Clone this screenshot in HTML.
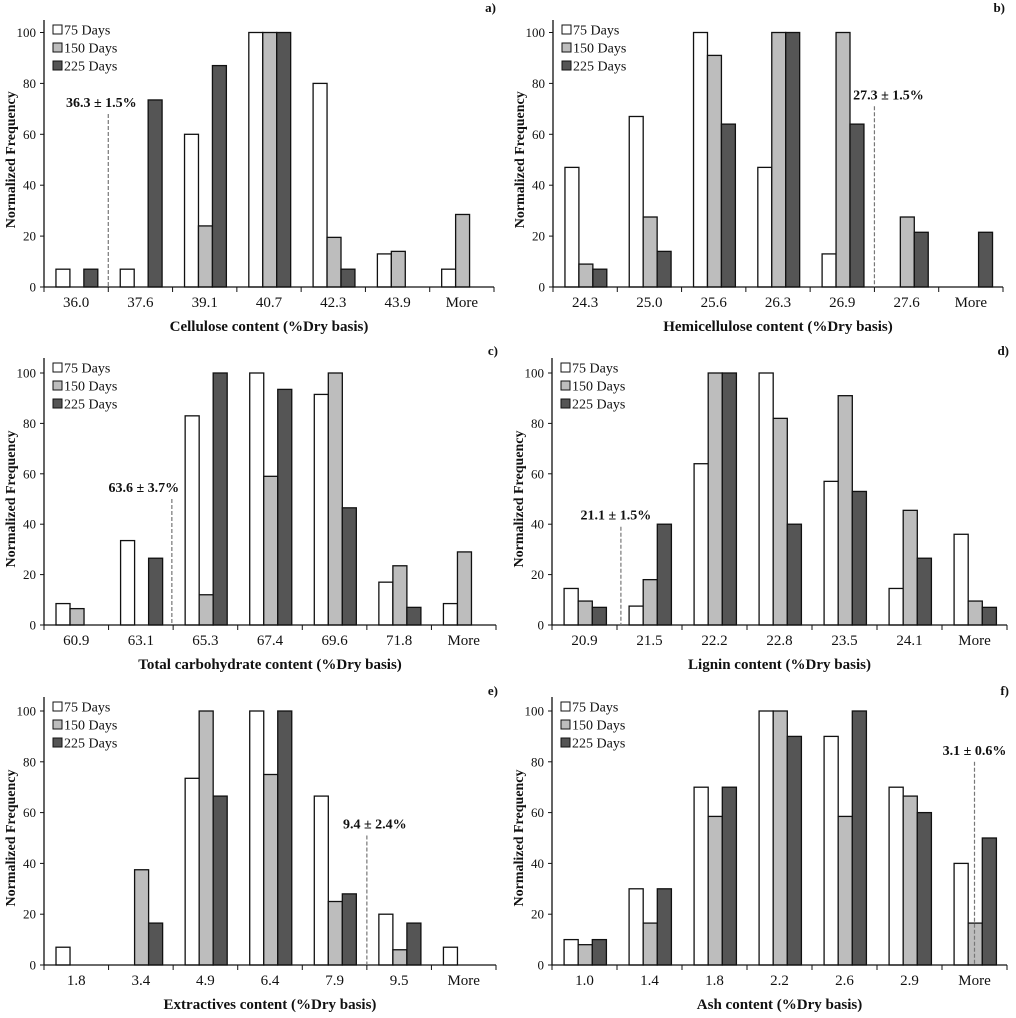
<!DOCTYPE html>
<html><head><meta charset="utf-8"><style>
body{margin:0;background:#fff}
svg{display:block}
text{font-family:"Liberation Serif",serif;fill:#111}
</style></head><body>
<svg id="chart" width="1016" height="1018" viewBox="0 0 1016 1018" xmlns="http://www.w3.org/2000/svg"></svg>
<script>
const seriesNames = ["75 Days","150 Days","225 Days"];
const seriesFill = ["#ffffff","#bdbdbd","#555555"];
const yTicks = [0,20,40,60,80,100];
const catsA = ["36.0","37.6","39.1","40.7","42.3","43.9","More"];
const a75 = [7,7,60,100,80,13,7];
const a150 = [0,0,24,100,19.5,14,28.5];
const a225 = [7,73.5,87,100,7,0,0];
const catsB = ["24.3","25.0","25.6","26.3","26.9","27.6","More"];
const b75 = [47,67,100,47,13,0,0];
const b150 = [9,27.5,91,100,100,27.5,0];
const b225 = [7,14,64,100,64,21.5,21.5];
const catsC = ["60.9","63.1","65.3","67.4","69.6","71.8","More"];
const c75 = [8.5,33.5,83,100,91.5,17,8.5];
const c150 = [6.5,0,12,59,100,23.5,29];
const c225 = [0,26.5,100,93.5,46.5,7,0];
const catsD = ["20.9","21.5","22.2","22.8","23.5","24.1","More"];
const d75 = [14.5,7.5,64,100,57,14.5,36];
const d150 = [9.5,18,100,82,91,45.5,9.5];
const d225 = [7,40,100,40,53,26.5,7];
const catsE = ["1.8","3.4","4.9","6.4","7.9","9.5","More"];
const e75 = [7,0,73.5,100,66.5,20,7];
const e150 = [0,37.5,100,75,25,6,0];
const e225 = [0,16.5,66.5,100,28,16.5,0];
const catsF = ["1.0","1.4","1.8","2.2","2.6","2.9","More"];
const f75 = [10,30,70,100,90,70,40];
const f150 = [8,16.5,58.5,100,58.5,66.5,16.5];
const f225 = [10,30,70,90,100,60,50];
const titles = ["Cellulose  content  (%Dry basis)","Hemicellulose  content  (%Dry basis)","Total  carbohydrate content (%Dry basis)","Lignin  content  (%Dry basis)","Extractives  content  (%Dry basis)","Ash  content  (%Dry basis)"];
const letters = ["a)","b)","c)","d)","e)","f)"];
const meanLabels = ["36.3 \u00b1 1.5%","27.3 \u00b1 1.5%","63.6 \u00b1 3.7%","21.1 \u00b1 1.5%","9.4 \u00b1 2.4%","3.1 \u00b1 0.6%"];
const meanPos = [1.0,5.0,1.98,1.06,5.0,6.5];
const meanTop = [68,71,50,39,51,80];
const labelShift = [-7,14,-28,-5,8,0];

const panels=[
 {cats:catsA,s:[a75,a150,a225],x0:44,x1:494,y0:287,y100:32.5,top:20,lab:12},
 {cats:catsB,s:[b75,b150,b225],x0:553,x1:1003,y0:287,y100:32.5,top:20,lab:12},
 {cats:catsC,s:[c75,c150,c225],x0:44,x1:496,y0:625,y100:373,top:358,lab:355},
 {cats:catsD,s:[d75,d150,d225],x0:552,x1:1007,y0:625,y100:373,top:358,lab:355},
 {cats:catsE,s:[e75,e150,e225],x0:44,x1:496,y0:965,y100:711,top:697,lab:695},
 {cats:catsF,s:[f75,f150,f225],x0:552,x1:1007,y0:965,y100:711,top:697,lab:695}
];
const svg=document.getElementById('chart');
const NS="http://www.w3.org/2000/svg";
function mk(tag,attrs,parent){const e=document.createElementNS(NS,tag);for(const k in attrs)e.setAttribute(k,attrs[k]);(parent||svg).appendChild(e);return e;}
panels.forEach((p,pi)=>{
 const g=mk('g',{});
 
 
 const n=p.cats.length, cw=(p.x1-p.x0)/n;
 const X=c=>p.x0+c*cw;
 const Y=v=>p.y0-(v/100)*(p.y0-p.y100);
 p.s.forEach((arr,si)=>{
  arr.forEach((v,ci)=>{
   if(v<=0)return;
   const r=mk('rect',{x:X(ci)+cw*(0.186+0.217*si),y:Y(v),width:cw*0.217,height:p.y0-Y(v),fill:seriesFill[si],stroke:'#111','stroke-width':1.3},g);
   
   
  });
 });
 const ya=mk('line',{x1:p.x0,y1:p.top,x2:p.x0,y2:p.y0,stroke:'#111','stroke-width':1.3},g);
 
 
 const xa=mk('line',{x1:p.x0,y1:p.y0,x2:p.x1,y2:p.y0,stroke:'#111','stroke-width':1.3},g);
 
 
 yTicks.forEach(t=>{
  mk('line',{x1:p.x0-4,y1:Y(t),x2:p.x0,y2:Y(t),stroke:'#111'},g);
  const tx=mk('text',{x:p.x0-8,y:Y(t)+4.5,'text-anchor':'end','font-size':13},g);
  tx.textContent=t;
  
  
 });
 for(let i=0;i<=n;i++) mk('line',{x1:X(i),y1:p.y0,x2:X(i),y2:p.y0+5,stroke:'#111'},g);
 p.cats.forEach((c,ci)=>{
  const tx=mk('text',{x:X(ci+0.5),y:p.y0+20,'text-anchor':'middle','font-size':15},g);
  tx.textContent=c;
  
  
 });
 const tt=mk('text',{x:(p.x0+p.x1)/2,y:p.y0+44,'text-anchor':'middle','font-size':15,'font-weight':'bold'},g);
 tt.textContent=titles[pi];
 
 
 const yt=mk('text',{x:0,y:0,'text-anchor':'middle','font-size':14,'font-weight':'bold',transform:`translate(${p.x0-29},${(p.y0+p.y100)/2}) rotate(-90)`},g);
 yt.textContent="Normalized Frequency";
 
 
 const lt=mk('text',{x:p.x1+2,y:p.lab,'text-anchor':'end','font-size':13,'font-weight':'bold'},g);
 lt.textContent=letters[pi];
 
 
 const mx=X(meanPos[pi]);
 const ml=mk('line',{x1:mx,y1:Y(meanTop[pi]),x2:mx,y2:p.y0,stroke:'#777','stroke-width':1.2,'stroke-dasharray':'4,2'},g);
 
 
 const mt=mk('text',{x:mx+labelShift[pi],y:Y(meanTop[pi])-7,'text-anchor':'middle','font-size':14,'font-weight':'bold'},g);
 mt.textContent=meanLabels[pi];
 
 
 seriesNames.forEach((s,si)=>{
  const ly=p.top+10+si*18;
  const lg=mk('g',{},g);
  
  
  mk('rect',{x:p.x0+9,y:ly-5,width:9,height:9,fill:seriesFill[si],stroke:'#111'},lg);
  const t=mk('text',{x:p.x0+20,y:ly+4.5,'font-size':14},lg);
  t.textContent=s;
 });
});
</script>
</body></html>
